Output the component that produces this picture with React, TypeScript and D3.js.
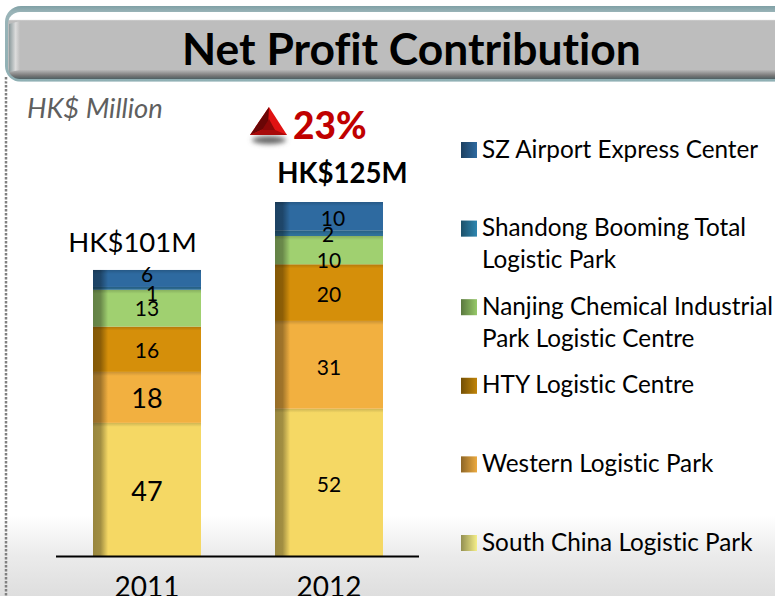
import React from 'react';
import * as d3 from 'd3';

const years = ['2011', '2012'];
const totals = ['HK$101M', 'HK$125M'];
const seriesKeys = ['South China', 'Western', 'HTY', 'Nanjing', 'Shandong', 'SZ Airport'];
const southChina = [47, 52];
const western = [18, 31];
const hty = [16, 20];
const nanjing = [13, 10];
const shandong = [1, 2];
const szAirport = [6, 10];
const seriesValues = [southChina, western, hty, nanjing, shandong, szAirport];
const colors = ['#f5d864', '#f2b040', '#d58f0a', '#a0d070', '#2e7099', '#2e6aa0'];
const legendLines = [
  ['SZ Airport Express Center'],
  ['Shandong Booming Total', 'Logistic Park'],
  ['Nanjing Chemical Industrial', 'Park Logistic Centre'],
  ['HTY Logistic Centre'],
  ['Western Logistic Park'],
  ['South China Logistic Park'],
];
const legendColors = ['#2e6aa0', '#2e86b0', '#96c868', '#c08408', '#ecaa40', '#f4ee88'];

// the labels were placed by hand in the original, so they sit off centre
const nudgeX = [[0, 0], [0, 0], [0, 0], [0, 0], [5, -1], [0, 4]];
const nudgeY = [[2.5, 2], [1, 2.5], [1, 2.5], [0, 11], [5, 1], [-4, 2]];

const FONT = 'Lato, "Open Sans", sans-serif';
const width = 775;
const height = 596;
const baseline = 556;

const rows = years.map((y, i) => {
  const row: Record<string, number | string> = { year: y };
  seriesKeys.forEach((k, j) => { row[k] = seriesValues[j][i]; });
  return row;
});
const stacked = d3.stack<any>().keys(seriesKeys)(rows);
const yearTotals = years.map((_, i) => d3.sum(seriesValues, s => s[i]));

const x = d3.scaleBand().domain(years).range([56, 420]).paddingInner(0.4066).paddingOuter(0.2033);
const y = d3.scaleLinear().domain([0, 125]).range([baseline, 202]);
const legendY = d3.scalePoint<number>().domain(d3.range(6)).range([149, 542]);

export default function App() {
  return (
    <svg width={width} height={height} style={{ position: 'absolute', left: 0, top: 0, fontVariantLigatures: 'none' }} fontFamily={FONT}>
      <defs>
        <linearGradient id="floor" x1="0" x2="0" y1="0" y2="1">
          <stop offset="0" stopColor="#ffffff" />
          <stop offset="0.5" stopColor="#ebebeb" />
          <stop offset="1" stopColor="#dedede" />
        </linearGradient>
        <linearGradient id="barShade" x1="0" x2="1" y1="0" y2="0">
          <stop offset="0" stopColor="#000" stopOpacity="0.38" />
          <stop offset="0.07" stopColor="#000" stopOpacity="0.34" />
          <stop offset="0.14" stopColor="#000" stopOpacity="0" />
        </linearGradient>
        <linearGradient id="segShade" x1="0" x2="0" y1="0" y2="1">
          <stop offset="0" stopColor="#000" stopOpacity="0.16" />
          <stop offset="1" stopColor="#000" stopOpacity="0" />
        </linearGradient>
        <linearGradient id="swatch" x1="0" x2="1" y1="0" y2="0">
          <stop offset="0" stopColor="#000" stopOpacity="0.4" />
          <stop offset="1" stopColor="#000" stopOpacity="0" />
        </linearGradient>
        <linearGradient id="frame" x1="0" x2="0" y1="0" y2="1">
          <stop offset="0" stopColor="#7fa0a5" />
          <stop offset="0.08" stopColor="#9ab4b8" />
          <stop offset="1" stopColor="#8fb0b4" />
        </linearGradient>
        <linearGradient id="bar" x1="0" x2="0" y1="0" y2="1">
          <stop offset="0" stopColor="#ffffff" />
          <stop offset="0.11" stopColor="#ffffff" />
          <stop offset="0.13" stopColor="#bdbdbd" />
          <stop offset="0.86" stopColor="#bdbdbd" />
          <stop offset="0.95" stopColor="#777" />
          <stop offset="1" stopColor="#4f5f62" />
        </linearGradient>
        <linearGradient id="bevel" x1="0" x2="1" y1="0" y2="0">
          <stop offset="0" stopColor="#8b9a9c" />
          <stop offset="0.6" stopColor="#dcdcdc" />
          <stop offset="1" stopColor="#bdbdbd" />
        </linearGradient>
        <filter id="blur" x="-30%" y="-100%" width="160%" height="300%">
          <feGaussianBlur stdDeviation="2.5" />
        </filter>
      </defs>

      <rect width={width} height={height} fill="#fff" />
      <rect y={515} width={width} height={81} fill="url(#floor)" />
      <line x1={6} x2={6} y1={77} y2={596} stroke="#808080" strokeWidth={2.5} strokeDasharray="2.5 1.5" />

      <rect x={5} y={6} width={810} height={76} rx={16} fill="url(#frame)" />
      <rect x={5.5} y={81} width={800} height={1} fill="#fff" opacity={0.4} />
      <rect x={8} y={12} width={800} height={67} rx={12} fill="url(#bar)" />
      <path d={d3.line()([[9, 24], [20, 21], [20, 70], [9, 72]])! + 'Z'} fill="url(#bevel)" />
      <text x={411.5} y={65} textAnchor="middle" fontSize={44.4} fontWeight={700} fill="#000">Net Profit Contribution</text>

      <text x={27} y={118} fontSize={27.4} fontStyle="italic" fill="#5f5f5f">HK$ Million</text>

      <ellipse cx={269} cy={140} rx={17} ry={4} fill="#666" filter="url(#blur)" />
      <path d={d3.line()([[250, 135], [269, 107], [287, 135]])! + 'Z'} fill="#e01212" />
      <path d={d3.line()([[250, 135], [269, 107], [268, 127]])! + 'Z'} fill="#6a0606" />
      <path d={d3.line()([[250, 135], [268, 127], [287, 135]])! + 'Z'} fill="#a80a0a" />
      <path d={d3.line()([[262, 130], [269, 119], [275, 130]])! + 'Z'} fill="#8d0808" />
      <text x={293} y={139} fontSize={37} fontWeight={900} fill="#c00000">23%</text>

      {stacked.map((s, j) => (
        <g key={s.key}>
          {s.map((d, i) => (
            <g key={years[i]}>
              <rect x={x(years[i])} y={y(d[1])} width={x.bandwidth()} height={y(d[0]) - y(d[1])} fill={colors[j]} />
              <rect x={x(years[i])} y={y(d[1])} width={x.bandwidth()} height={Math.min(4, y(d[0]) - y(d[1]))} fill="url(#segShade)" />
            </g>
          ))}
        </g>
      ))}
      {years.map((yr, i) => (
        <rect key={yr} x={x(yr)} y={y(yearTotals[i])} width={x.bandwidth()} height={baseline - y(yearTotals[i])} fill="url(#barShade)" />
      ))}

      {stacked.map((s, j) => s.map((d, i) => {
        const big = i === 0 && j < 2;
        return (
          <text key={`${j}-${i}`} x={x(years[i])! + x.bandwidth() / 2 + nudgeX[j][i]} y={(y(d[0]) + y(d[1])) / 2 + nudgeY[j][i]} dy="0.35em"
            textAnchor="middle" fontSize={big ? 27 : 21} fill="#000">{d[1] - d[0]}</text>
        );
      }))}

      <text x={x('2011')! + x.bandwidth() / 2 - 14.5} y={252} textAnchor="middle" fontSize={27.5} fill="#000">{totals[0]}</text>
      <text x={x('2012')! + x.bandwidth() / 2 + 13.5} y={183} textAnchor="middle" fontSize={27.6} fontWeight={700} fill="#000">{totals[1]}</text>

      <line x1={56} x2={419} y1={baseline + 0.5} y2={baseline + 0.5} stroke="#000" strokeWidth={2} />
      {years.map(yr => (
        <text key={yr} x={x(yr)! + x.bandwidth() / 2} y={597} textAnchor="middle" fontSize={28} fill="#000">{yr}</text>
      ))}

      {legendLines.map((lines, i) => {
        const yy = legendY(i)!;
        return (
          <g key={i}>
            <rect x={461} y={yy - 7} width={16} height={16} fill={legendColors[i]} />
            <rect x={461} y={yy - 7} width={16} height={16} fill="url(#swatch)" />
            {lines.map((t, k) => (
              <text key={t} x={482} y={yy + 8.5 + k * 32} fontSize={24.3} fill="#000">{t}</text>
            ))}
          </g>
        );
      })}
    </svg>
  );
}
